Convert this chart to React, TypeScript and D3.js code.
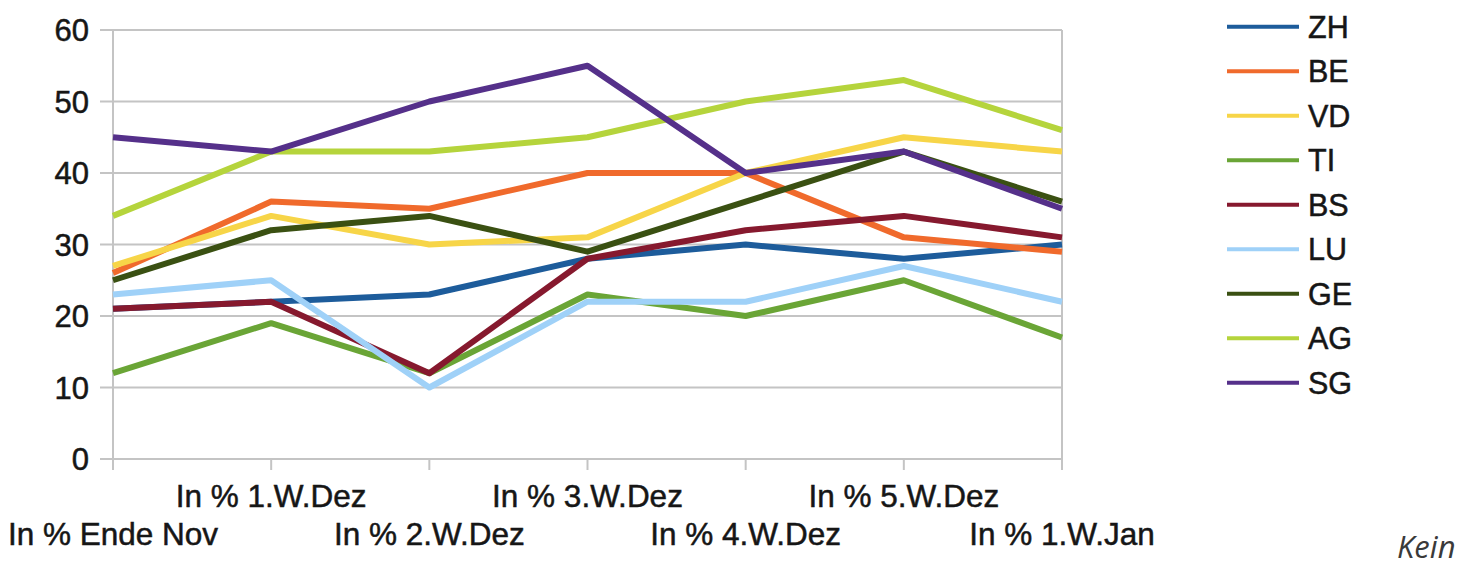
import React from "react";
import * as d3 from "d3";

const categories = [
  "In % Ende Nov",
  "In % 1.W.Dez",
  "In % 2.W.Dez",
  "In % 3.W.Dez",
  "In % 4.W.Dez",
  "In % 5.W.Dez",
  "In % 1.W.Jan",
];

const yTicks = [0, 10, 20, 30, 40, 50, 60];

const ZH = [21, 22, 23, 28, 30, 28, 30];
const BE = [26, 36, 35, 40, 40, 31, 29];
const VD = [27, 34, 30, 31, 40, 45, 43];
const TI = [12, 19, 12, 23, 20, 25, 17];
const BS = [21, 22, 12, 28, 32, 34, 31];
const LU = [23, 25, 10, 22, 22, 27, 22];
const GE = [25, 32, 34, 29, 36, 43, 36];
const AG = [34, 43, 43, 45, 50, 53, 46];
const SG = [45, 43, 50, 55, 40, 43, 35];

const seriesNames = ["ZH", "BE", "VD", "TI", "BS", "LU", "GE", "AG", "SG"];
const seriesValues = [ZH, BE, VD, TI, BS, LU, GE, AG, SG];
const seriesColors = [
  "#1d5c9b",
  "#f06a2c",
  "#f7d548",
  "#6aa536",
  "#86192e",
  "#9fd1f8",
  "#3a5012",
  "#b5d43c",
  "#55308a",
];

const footnote = "Kein";

export default function App() {
  const W = 1462;
  const H = 571;
  const left = 113;
  const right = 1062;
  const top = 30;
  const bottom = 459;

  const x = d3.scalePoint<string>().domain(categories).range([left, right]);
  const y = d3.scaleLinear().domain([0, 60]).range([bottom, top]);
  const line = d3
    .line<number>()
    .x((_, i) => x(categories[i]) as number)
    .y((d) => y(d));

  const font = "'Liberation Sans', Arial, sans-serif";
  const grid = "#c4c4c4";
  const ink = "#161616";

  return (
    <svg
      width={W}
      height={H}
      style={{ position: "absolute", left: 0, top: 0, background: "#fff" }}
    >
      {yTicks.map((t) => (
        <line
          key={"g" + t}
          x1={left - 13}
          x2={right}
          y1={y(t)}
          y2={y(t)}
          stroke={grid}
          strokeWidth={2}
        />
      ))}
      <line x1={left} x2={left} y1={top} y2={bottom + 11} stroke={grid} strokeWidth={2} />
      <line x1={right} x2={right} y1={top} y2={bottom + 11} stroke={grid} strokeWidth={2} />
      {categories.map((c) => (
        <line
          key={"t" + c}
          x1={x(c)}
          x2={x(c)}
          y1={bottom}
          y2={bottom + 11}
          stroke={grid}
          strokeWidth={2}
        />
      ))}
      {yTicks.map((t) => (
        <text
          key={"y" + t}
          x={89}
          y={y(t)}
          dy="0.36em"
          textAnchor="end"
          fontFamily={font}
          fontSize={31}
          fill={ink}
          stroke={ink}
          strokeWidth={0.5}
        >
          {t}
        </text>
      ))}
      {categories.map((c, i) => (
        <text
          key={"x" + c}
          x={x(c)}
          y={i % 2 === 1 ? 507 : 545}
          textAnchor="middle"
          fontFamily={font}
          fontSize={31.5}
          fill={ink}
          stroke={ink}
          strokeWidth={0.5}
        >
          {c}
        </text>
      ))}
      {seriesValues.map((vals, i) => (
        <path
          key={"s" + seriesNames[i]}
          d={line(vals) as string}
          fill="none"
          stroke={seriesColors[i]}
          strokeWidth={6}
          strokeLinejoin="round"
        />
      ))}
      {seriesNames.map((n, i) => {
        const ly = 26.7 + i * 44.5;
        return (
          <g key={"l" + n}>
            <line
              x1={1227}
              x2={1299}
              y1={ly}
              y2={ly}
              stroke={seriesColors[i]}
              strokeWidth={4}
            />
            <text
              x={1308}
              y={ly}
              dy="0.36em"
              fontFamily={font}
              fontSize={30.5}
              fill={ink}
              stroke={ink}
              strokeWidth={0.5}
            >
              {n}
            </text>
          </g>
        );
      })}
      <text
        x={1397}
        y={558}
        fontFamily="'Open Sans', 'Noto Sans', sans-serif"
        fontStyle="italic"
        fontSize={31}
        fill="#3a3a3a"
      >
        {footnote}
      </text>
    </svg>
  );
}
